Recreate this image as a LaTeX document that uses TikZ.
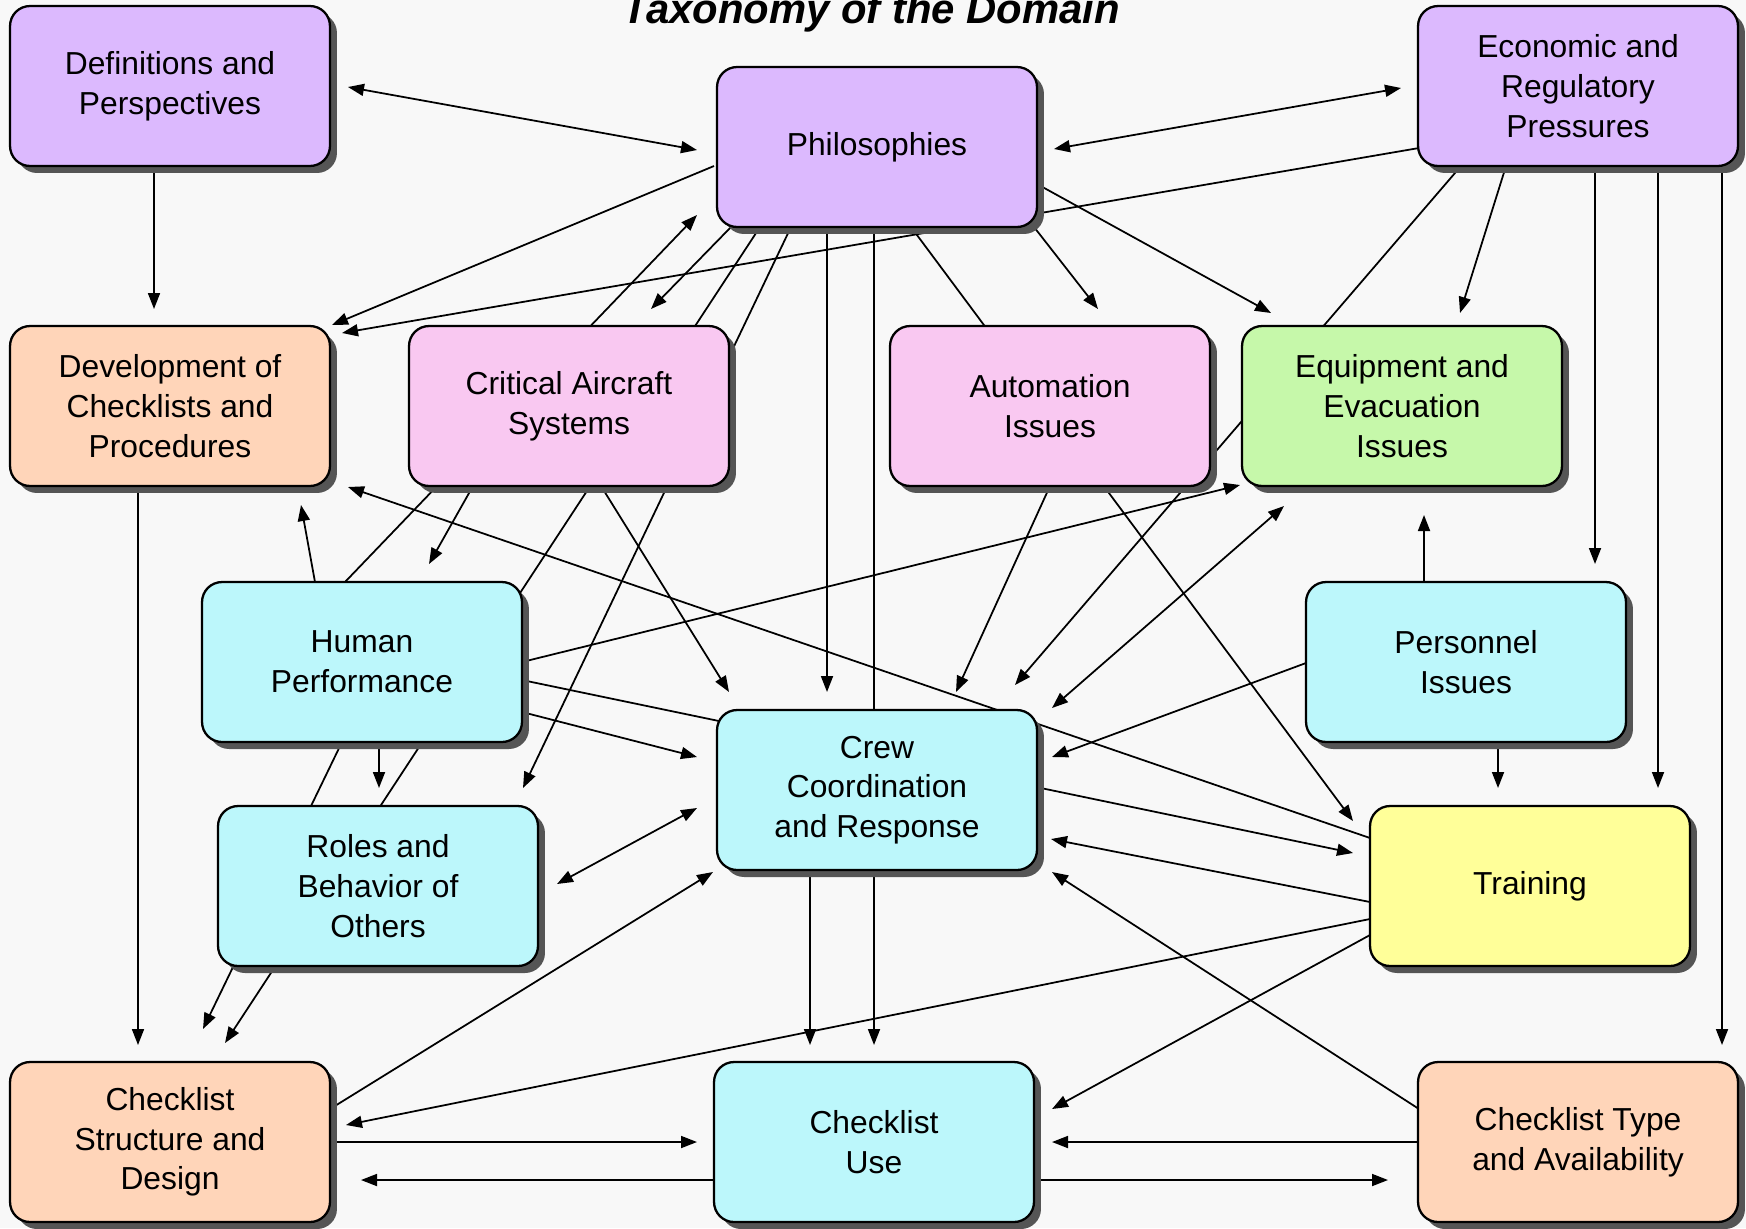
\documentclass[tikz,border=0pt]{standalone}
\usepackage{fontspec}
\setmainfont{Liberation Sans}
\usetikzlibrary{arrows.meta,shadows,calc}
\pgfdeclarelayer{back}
\pgfdeclarelayer{lines}
\pgfsetlayers{back,lines,main}
\definecolor{bgcol}{HTML}{F8F8F8}
\definecolor{boxpurple}{HTML}{DCB9FE}
\definecolor{boxpink}{HTML}{F9C8F1}
\definecolor{boxpeach}{HTML}{FFD5B9}
\definecolor{boxcyan}{HTML}{BCF7FB}
\definecolor{boxgreen}{HTML}{C6F8AA}
\definecolor{boxyellow}{HTML}{FFFF99}
\definecolor{shadowgray}{HTML}{555555}

\begin{document}
\begin{tikzpicture}[x=0.02cm, y=-0.02cm,
  box/.style={shape=rectangle, rounded corners=0.4cm, draw=black, line width=1.3pt,
    minimum width=6.4cm, minimum height=3.2cm, align=center,
    font=\fontsize{18.1}{22.6}\selectfont,
    drop shadow={shadow xshift=0.14cm, shadow yshift=-0.14cm, fill=shadowgray, opacity=1}},
  arr/.style={-{Triangle[length=0.32cm,width=0.24cm]}, line width=1pt},
  arrs/.style={{Triangle[length=0.32cm,width=0.24cm]}-{Triangle[length=0.32cm,width=0.24cm]}, line width=1pt}]

\begin{pgfonlayer}{back}
\fill[bgcol] (0,0) rectangle (1746,1228);
\end{pgfonlayer}
\useasboundingbox (0,0) rectangle (1746,1228);

\node[font=\fontsize{23.8}{28}\selectfont\bfseries\itshape, anchor=base](title) at (871,23) {Taxonomy of the Domain};

\node[box, fill=boxpurple](def) at (170,86) {Definitions and\\Perspectives};
\node[box, fill=boxpurple](phil) at (877,147) {Philosophies};
\node[box, fill=boxpurple](econ) at (1578,86) {Economic and\\Regulatory\\Pressures};
\node[box, fill=boxpeach](dev) at (170,406) {Development of\\Checklists and\\Procedures};
\node[box, fill=boxpink](crit) at (569,406) {Critical Aircraft\\Systems};
\node[box, fill=boxpink](autom) at (1050,406) {Automation\\Issues};
\node[box, fill=boxgreen](equip) at (1402,406) {Equipment and\\Evacuation\\Issues};
\node[box, fill=boxcyan](human) at (362,662) {Human\\Performance};
\node[box, fill=boxcyan](pers) at (1466,662) {Personnel\\Issues};
\node[box, fill=boxcyan](roles) at (378,886) {Roles and\\Behavior of\\Others};
\node[box, fill=boxcyan](crew) at (877,790) {Crew\\Coordination\\and Response};
\node[box, fill=boxyellow](train) at (1530,886) {Training};
\node[box, fill=boxpeach](clstruct) at (170,1142) {Checklist\\Structure and\\Design};
\node[box, fill=boxcyan](cluse) at (874,1142) {Checklist\\Use};
\node[box, fill=boxpeach](cltype) at (1578,1142) {Checklist Type\\and Availability};

\begin{pgfonlayer}{lines}
% top row
\path[arrs] ($(def)+(178,1)$) edge ($(phil)+(-180,3)$);
\path[arrs] ($(phil)+(177,2)$) edge ($(econ)+(-177,2)$);
\path[arr] ($(def)+(-16,80)$) edge ($(dev)+(-16,-97)$);
\path[arr] ($(phil)+(-163,19)$) edge ($(dev)+(162,-81)$);
\path[arr] ($(econ)+(-159,62)$) edge ($(dev)+(172,-73)$);
% from philosophies
\path[arr] ($(phil)+(-146,80)$) edge ($(crit)+(82,-97)$);
\path[arr] ($(phil)+(-117,80)$) edge ($(clstruct)+(55,-99)$);
\path[arr] ($(phil)+(-86,80)$) edge ($(roles)+(145,-98)$);
\path[arr] ($(phil)+(-50,80)$) edge ($(crew)+(-50,-98)$);
\path[arr] ($(phil)+(-3,80)$) edge ($(cluse)+(0,-97)$);
\path[arr] ($(phil)+(34,80)$) edge ($(train)+(-177,-65)$);
\path[arr] ($(phil)+(157,80)$) edge ($(autom)+(48,-97)$);
\path[arr] ($(phil)+(160,37)$) edge ($(equip)+(-131,-93)$);
% from economic
\path[arr] ($(econ)+(-117,80)$) edge ($(crew)+(138,-105)$);
\path[arr] ($(econ)+(-72,80)$) edge ($(equip)+(58,-93)$);
\path[arr] ($(econ)+(17,80)$) edge ($(pers)+(129,-98)$);
\path[arr] ($(econ)+(80,80)$) edge ($(train)+(128,-98)$);
\path[arr] ($(econ)+(144,80)$) edge ($(cltype)+(144,-97)$);
% second row
\path[arr] ($(crit)+(-96,80)$) edge ($(human)+(67,-98)$);
\path[arr] ($(crit)+(32,80)$) edge ($(crew)+(-148,-98)$);
\path[arr] ($(autom)+(0,80)$) edge ($(crew)+(79,-98)$);
\path[arrs] ($(crew)+(175,-82)$) edge ($(equip)+(-118,100)$);
\path[arr] ($(dev)+(-32,80)$) edge ($(clstruct)+(-32,-97)$);
% human performance
\path[arr] ($(human)+(-47,-80)$) edge ($(dev)+(131,99)$);
\path[arr] ($(human)+(-17,-80)$) edge ($(phil)+(-180,68)$);
\path[arr] ($(human)+(160,0)$) edge ($(equip)+(-162,79)$);
\path[arr] ($(human)+(160,18)$) edge ($(train)+(-177,-33)$);
\path[arr] ($(human)+(160,50)$) edge ($(crew)+(-180,-33)$);
\path[arr] ($(human)+(17,80)$) edge ($(roles)+(1,-98)$);
\path[arr] ($(human)+(-20,80)$) edge ($(clstruct)+(33,-113)$);
\path[arrs] ($(roles)+(179,-2)$) edge ($(crew)+(-180,18)$);
% personnel and training
\path[arr] ($(pers)+(-42,-80)$) edge ($(equip)+(22,109)$);
\path[arr] ($(pers)+(-160,1)$) edge ($(crew)+(175,-33)$);
\path[arr] ($(pers)+(32,80)$) edge ($(train)+(-32,-98)$);
\path[arr] ($(train)+(-160,-48)$) edge ($(dev)+(178,81)$);
\path[arr] ($(train)+(-160,16)$) edge ($(crew)+(174,49)$);
\path[arr] ($(train)+(-160,33)$) edge ($(clstruct)+(176,-17)$);
\path[arr] ($(train)+(-160,49)$) edge ($(cluse)+(178,-33)$);
% bottom row
\path[arr] ($(crew)+(-67,80)$) edge ($(cluse)+(-64,-97)$);
\path[arr] ($(clstruct)+(160,-33)$) edge ($(crew)+(-164,82)$);
\path[arr] ($(clstruct)+(160,0)$) edge ($(cluse)+(-177,0)$);
\path[arr] ($(cluse)+(-160,38)$) edge ($(clstruct)+(191,38)$);
\path[arr] ($(cltype)+(-159,-33)$) edge ($(crew)+(175,82)$);
\path[arr] ($(cltype)+(-159,0)$) edge ($(cluse)+(178,0)$);
\path[arr] ($(cluse)+(160,38)$) edge ($(cltype)+(-190,38)$);
\end{pgfonlayer}
\end{tikzpicture}
\end{document}
